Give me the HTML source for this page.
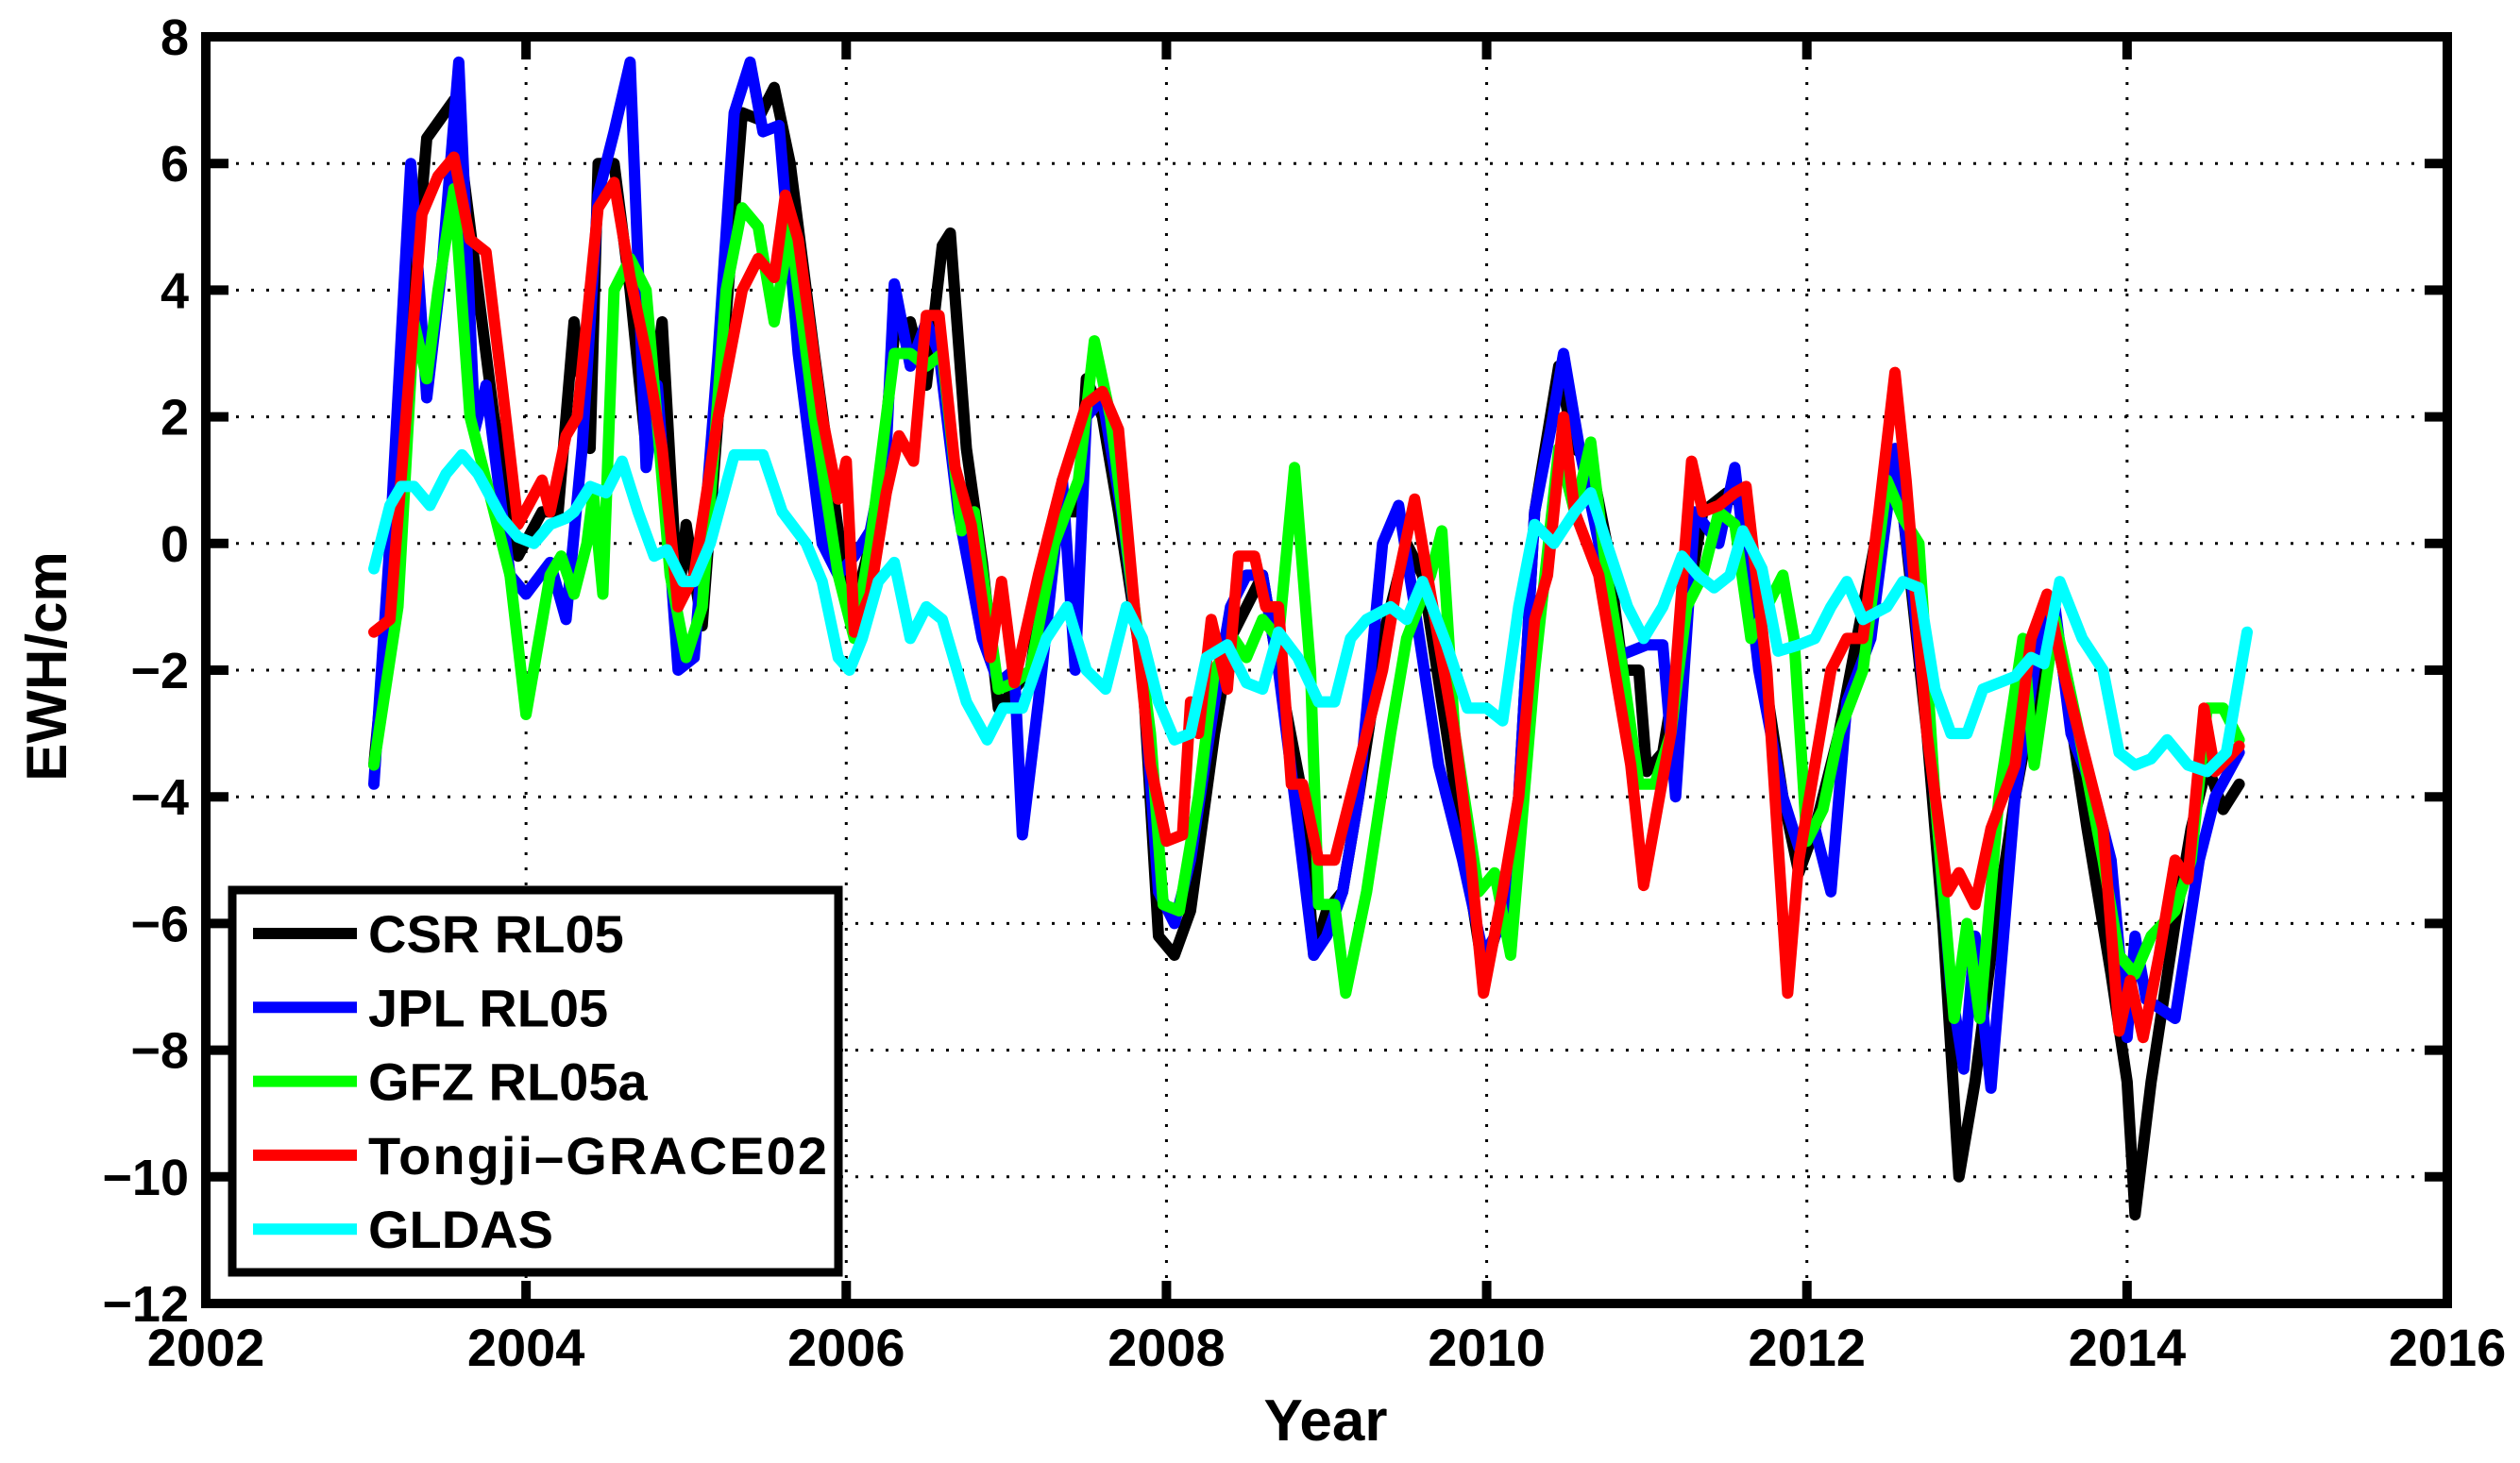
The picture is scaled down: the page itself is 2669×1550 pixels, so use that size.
<!DOCTYPE html>
<html><head><meta charset="utf-8"><style>
html,body{margin:0;padding:0;background:#fff;}
svg{display:block;font-family:"Liberation Sans",Arial,sans-serif;font-weight:bold;}
</style></head><body>
<svg id="chart" width="2669" height="1550" viewBox="0 0 2669 1550" xmlns="http://www.w3.org/2000/svg">
<rect width="2669" height="1550" fill="#fff"/>
<g id="grid"></g>
<g id="series"></g>
<g id="axes"></g>
<text x="1404" y="1526" font-size="62" text-anchor="middle">Year</text>
<text x="0" y="0" font-size="60" text-anchor="middle" transform="translate(70,706) rotate(-90)">EWH/cm</text>
<g id="legend"></g>
</svg>
<script>
const xTicks=[2002,2004,2006,2008,2010,2012,2014,2016];
const yTicks=[8,6,4,2,0,-2,-4,-6,-8,-10,-12];
const seriesNames=["CSR RL05","JPL RL05","GFZ RL05a","Tongji\u2013GRACE02","GLDAS"];
const seriesColors=["#000","#0000ff","#00ff00","#ff0000","#00ffff"];
const csrYears=[2003.05,2003.2,2003.3,2003.38,2003.55,2003.65,2003.8,2003.95,2004.1,2004.2,2004.3,2004.4,2004.45,2004.55,2004.65,2004.75,2004.85,2004.95,2005.0,2005.1,2005.2,2005.35,2005.45,2005.55,2005.65,2005.8,2005.95,2006.05,2006.2,2006.3,2006.4,2006.5,2006.6,2006.65,2006.75,2006.85,2006.95,2007.05,2007.15,2007.3,2007.45,2007.5,2007.6,2007.7,2007.85,2007.95,2008.05,2008.15,2008.3,2008.4,2008.5,2008.6,2008.7,2008.85,2008.92,2009.0,2009.1,2009.2,2009.35,2009.5,2009.6,2009.75,2009.9,2009.98,2010.1,2010.2,2010.3,2010.45,2010.55,2010.65,2010.75,2010.85,2010.95,2011.0,2011.1,2011.25,2011.35,2011.5,2011.6,2011.7,2011.85,2011.95,2012.05,2012.2,2012.35,2012.5,2012.6,2012.75,2012.85,2012.95,2013.05,2013.15,2013.3,2013.45,2013.52,2013.6,2013.75,2013.9,2014.0,2014.05,2014.15,2014.3,2014.4,2014.5,2014.6,2014.7];
const csrValues=[-3.5,0.5,4,6.4,7.0,5,2,-0.2,0.5,0.5,3.5,1.5,6,6.0,4,1.5,3.5,-1.0,0.3,-1.3,2,6.8,6.7,7.2,6.0,3,0.2,-1.0,0.5,3.3,3.5,2.5,4.7,4.9,1.5,-0.3,-2.6,-2.3,-2.0,0.5,0.5,2.6,2.0,0.5,-2,-6.2,-6.5,-5.8,-3,-1.5,-1,-0.5,-2,-4,-6.5,-5.8,-5.5,-4,-1.5,0,-0.5,-3,-5.5,-6.8,-5.8,-4,0.5,2.8,1.5,1.3,0,-2,-2.0,-3.6,-3.3,-1,0.5,0.8,0.6,-1.5,-4,-5.2,-4.5,-3,-1,1,0.5,-3,-6,-10,-8.5,-6.5,-4,-2,-1,-2,-4.5,-6.8,-8.5,-10.6,-8.5,-6.0,-4.5,-3.5,-4.2,-3.8];
const jplYears=[2003.05,2003.15,2003.28,2003.38,2003.48,2003.58,2003.68,2003.75,2003.9,2004.0,2004.15,2004.25,2004.35,2004.45,2004.55,2004.65,2004.75,2004.82,2004.95,2005.05,2005.2,2005.3,2005.4,2005.48,2005.58,2005.7,2005.85,2005.95,2006.05,2006.15,2006.25,2006.3,2006.4,2006.5,2006.58,2006.7,2006.85,2006.95,2007.05,2007.1,2007.2,2007.35,2007.43,2007.5,2007.6,2007.72,2007.85,2007.95,2008.05,2008.15,2008.3,2008.4,2008.5,2008.6,2008.7,2008.8,2008.92,2009.0,2009.1,2009.2,2009.35,2009.45,2009.55,2009.7,2009.85,2009.98,2010.1,2010.2,2010.3,2010.4,2010.48,2010.58,2010.7,2010.8,2010.9,2011.0,2011.1,2011.18,2011.3,2011.45,2011.55,2011.7,2011.85,2011.95,2012.05,2012.15,2012.25,2012.4,2012.55,2012.65,2012.8,2012.9,2012.98,2013.05,2013.15,2013.3,2013.45,2013.55,2013.65,2013.8,2013.9,2014.0,2014.05,2014.12,2014.3,2014.45,2014.55,2014.7];
const jplValues=[-3.8,0,6.0,2.3,4.5,7.6,1.8,2.5,-0.5,-0.8,-0.3,-1.2,1.5,5.5,6.5,7.6,1.2,2.5,-2.0,-1.8,3,6.8,7.6,6.5,6.6,3,0,-0.5,-0.2,0.2,1.5,4.1,2.8,3.5,3.0,0.5,-1.5,-2.2,-2.0,-4.6,-2.5,1.0,-2,2,2.3,0.5,-2,-5.5,-6.0,-5,-2.5,-1,-0.5,-0.5,-2,-4,-6.5,-6.2,-5.5,-4,0,0.6,-1,-3.5,-5,-6.5,-6,-4,0.5,1.8,3.0,1.5,0,-1.8,-1.7,-1.6,-1.6,-4.0,0.5,0,1.2,-2,-4,-4.8,-4.5,-5.5,-2.5,-1.5,1.5,-0.5,-4,-7,-8.3,-6.2,-8.6,-4,-1.5,-1.0,-3,-4,-5,-7.8,-6.2,-7.2,-7.5,-5,-4,-3.3];
const gfzYears=[2003.05,2003.2,2003.3,2003.38,2003.45,2003.55,2003.65,2003.75,2003.9,2004.0,2004.15,2004.22,2004.3,2004.38,2004.42,2004.48,2004.55,2004.65,2004.75,2004.9,2005.0,2005.1,2005.25,2005.35,2005.45,2005.55,2005.65,2005.8,2005.95,2006.05,2006.15,2006.3,2006.4,2006.5,2006.6,2006.72,2006.8,2006.95,2007.05,2007.15,2007.3,2007.45,2007.55,2007.65,2007.8,2007.9,2007.98,2008.08,2008.2,2008.3,2008.42,2008.5,2008.6,2008.7,2008.8,2008.9,2008.95,2009.05,2009.12,2009.25,2009.4,2009.5,2009.65,2009.72,2009.8,2009.95,2010.05,2010.15,2010.3,2010.45,2010.55,2010.65,2010.75,2010.85,2010.95,2011.05,2011.15,2011.25,2011.35,2011.45,2011.55,2011.65,2011.75,2011.85,2011.92,2012.0,2012.1,2012.2,2012.35,2012.5,2012.6,2012.7,2012.8,2012.92,2013.0,2013.08,2013.2,2013.35,2013.42,2013.55,2013.7,2013.85,2013.95,2014.05,2014.15,2014.3,2014.4,2014.5,2014.6,2014.7];
const gfzValues=[-3.5,-1,3.5,2.6,4.0,5.6,2,1,-0.5,-2.7,-0.5,-0.2,-0.8,0,0.8,-0.8,4,4.5,4,-0.5,-1.8,-1.0,4,5.3,5,3.5,5.0,2,-0.5,-1.5,0,3.0,3.0,2.8,3.0,0.2,0.5,-2.3,-2.2,-2,0,1,3.2,2,-1,-3,-5.7,-5.8,-4,-2,-1.5,-1.8,-1.2,-1.5,1.2,-2,-5.7,-5.7,-7.1,-5.5,-3,-1.5,-0.5,0.2,-3,-5.5,-5.2,-6.5,-2,1.5,0.5,1.6,-0.5,-2,-3.8,-3.8,-3,-1,-0.5,0.5,0.3,-1.5,-1,-0.5,-1.5,-4.7,-4.2,-3,-2,1.0,0.4,0,-4,-7.5,-6,-7.5,-4,-1.5,-3.5,-1.2,-3,-5,-6.5,-6.8,-6.2,-5.8,-5,-2.6,-2.6,-3.1];
const tongjiYears=[2003.05,2003.15,2003.25,2003.35,2003.45,2003.55,2003.65,2003.75,2003.85,2003.95,2004.1,2004.15,2004.25,2004.32,2004.45,2004.55,2004.65,2004.75,2004.85,2004.95,2005.05,2005.2,2005.35,2005.45,2005.55,2005.62,2005.7,2005.85,2005.95,2006.0,2006.05,2006.15,2006.25,2006.33,2006.42,2006.5,2006.58,2006.68,2006.78,2006.9,2006.97,2007.05,2007.2,2007.35,2007.5,2007.6,2007.7,2007.8,2007.9,2008.0,2008.1,2008.15,2008.2,2008.28,2008.38,2008.45,2008.55,2008.62,2008.7,2008.78,2008.85,2008.95,2009.05,2009.2,2009.35,2009.45,2009.55,2009.65,2009.8,2009.9,2009.98,2010.1,2010.2,2010.3,2010.38,2010.48,2010.55,2010.7,2010.8,2010.9,2010.98,2011.15,2011.28,2011.35,2011.45,2011.55,2011.62,2011.75,2011.88,2011.95,2012.05,2012.15,2012.25,2012.35,2012.45,2012.55,2012.62,2012.75,2012.88,2012.95,2013.05,2013.15,2013.3,2013.4,2013.5,2013.6,2013.75,2013.85,2013.95,2014.02,2014.1,2014.2,2014.3,2014.38,2014.48,2014.55,2014.7];
const tongjiValues=[-1.4,-1.2,2,5.2,5.8,6.1,4.8,4.6,2.5,0.3,1.0,0.5,1.7,2.0,5.3,5.7,4.2,3.0,1.5,-1.0,-0.5,2,4.0,4.5,4.2,5.5,4.8,2,0.7,1.3,-1.4,-0.8,0.8,1.7,1.3,3.6,3.6,1.2,0.3,-1.8,-0.6,-2.2,-0.5,1,2.2,2.4,1.8,-1,-3.5,-4.7,-4.6,-2.5,-3,-1.2,-2.3,-0.2,-0.2,-1,-1,-3.8,-3.8,-5,-5,-3.5,-2,-0.5,0.7,-0.8,-3,-5,-7.1,-5.5,-4,-1.2,-0.5,2.0,0.5,-0.5,-2,-3.5,-5.4,-3,1.3,0.5,0.6,0.8,0.9,-2,-7.1,-5,-3.5,-2,-1.5,-1.5,0.5,2.7,1,-3,-5.5,-5.2,-5.7,-4.5,-3.5,-1.5,-0.8,-2,-3.5,-4.5,-7.7,-6.9,-7.8,-6.5,-5,-5.3,-2.6,-3.6,-3.2];
const gldasYears=[2003.05,2003.15,2003.22,2003.3,2003.4,2003.5,2003.6,2003.7,2003.85,2003.95,2004.05,2004.15,2004.25,2004.3,2004.4,2004.5,2004.6,2004.7,2004.8,2004.88,2004.98,2005.05,2005.15,2005.3,2005.48,2005.6,2005.75,2005.85,2005.95,2006.02,2006.1,2006.2,2006.3,2006.4,2006.5,2006.6,2006.75,2006.88,2006.98,2007.1,2007.25,2007.38,2007.5,2007.62,2007.75,2007.85,2007.95,2008.05,2008.15,2008.25,2008.38,2008.5,2008.6,2008.7,2008.82,2008.95,2009.05,2009.15,2009.25,2009.4,2009.5,2009.6,2009.75,2009.88,2010.0,2010.1,2010.2,2010.3,2010.42,2010.55,2010.65,2010.75,2010.88,2010.98,2011.1,2011.22,2011.32,2011.42,2011.52,2011.6,2011.72,2011.82,2011.95,2012.05,2012.15,2012.25,2012.35,2012.5,2012.6,2012.7,2012.8,2012.9,2013.0,2013.1,2013.2,2013.3,2013.4,2013.48,2013.58,2013.72,2013.85,2013.95,2014.05,2014.15,2014.25,2014.38,2014.5,2014.62,2014.75];
const gldasValues=[-0.4,0.6,0.9,0.9,0.6,1.1,1.4,1.1,0.4,0.1,0,0.3,0.4,0.5,0.9,0.8,1.3,0.5,-0.2,-0.1,-0.6,-0.6,0,1.4,1.4,0.5,0,-0.6,-1.8,-2.0,-1.5,-0.6,-0.3,-1.5,-1.0,-1.2,-2.5,-3.1,-2.6,-2.6,-1.5,-1.0,-2,-2.3,-1.0,-1.5,-2.5,-3.1,-3.0,-1.8,-1.6,-2.2,-2.3,-1.4,-1.8,-2.5,-2.5,-1.5,-1.2,-1.0,-1.2,-0.6,-1.6,-2.6,-2.6,-2.8,-1,0.3,0,0.5,0.8,0,-1.0,-1.5,-1.0,-0.2,-0.5,-0.7,-0.5,0.2,-0.4,-1.7,-1.6,-1.5,-1.0,-0.6,-1.2,-1,-0.6,-0.7,-2.3,-3.0,-3.0,-2.3,-2.2,-2.1,-1.8,-1.9,-0.6,-1.5,-2.0,-3.3,-3.5,-3.4,-3.1,-3.5,-3.6,-3.3,-1.4];

const NS='http://www.w3.org/2000/svg';
const L=218,R=2592,T=39,B=1381;
const xMin=2002,xMax=2016,yMin=-12,yMax=8;
function xs(v){return L+(v-xMin)/(xMax-xMin)*(R-L);}
function ys(v){return B-(v-yMin)/(yMax-yMin)*(B-T);}
function mk(tag,attrs,parent){const e=document.createElementNS(NS,tag);for(const k in attrs)e.setAttribute(k,attrs[k]);parent.appendChild(e);return e;}

const grid=document.getElementById('grid');
const axes=document.getElementById('axes');
xTicks.forEach(function(t){
  const X=xs(t);
  if(t>xMin&&t<xMax){
    const g=mk('line',{x1:X,y1:T,x2:X,y2:B,stroke:'#000','stroke-width':3,'stroke-dasharray':'3 13'},grid);
    
    
  }
  const tk=mk('path',{d:'M'+X+' '+B+'V'+(B-24)+'M'+X+' '+T+'V'+(T+24),stroke:'#000','stroke-width':10},axes);
  
  
  const lb=mk('text',{x:X,y:1447,'font-size':56,'text-anchor':'middle'},axes);
  lb.textContent=t;
  
  
});
yTicks.forEach(function(t){
  const Y=ys(t);
  if(t>yMin&&t<yMax){
    const g=mk('line',{x1:L,y1:Y,x2:R,y2:Y,stroke:'#000','stroke-width':3,'stroke-dasharray':'3 13'},grid);
    
    
  }
  const tk=mk('path',{d:'M'+L+' '+Y+'H'+(L+24)+'M'+R+' '+Y+'H'+(R-24),stroke:'#000','stroke-width':10},axes);
  
  
  const lb=mk('text',{x:200,y:Y+19,'font-size':54,'text-anchor':'end'},axes);
  lb.textContent=(t<0?'\u2212':'')+Math.abs(t);
  
  
});
const frame=mk('rect',{x:L,y:T,width:R-L,height:B-T,fill:'none',stroke:'#000','stroke-width':10},axes);



const seriesG=document.getElementById('series');
const allYears=[csrYears,jplYears,gfzYears,tongjiYears,gldasYears];
const allValues=[csrValues,jplValues,gfzValues,tongjiValues,gldasValues];
const lineNames=['csr-line','jpl-line','gfz-line','tongji-line','gldas-line'];
allYears.forEach(function(yrs,i){
  const vals=allValues[i];
  const pts=yrs.map(function(y,j){return xs(y).toFixed(1)+','+ys(vals[j]).toFixed(1);}).join(' ');
  const p=mk('polyline',{points:pts,fill:'none',stroke:seriesColors[i],'stroke-width':12,'stroke-linejoin':'round','stroke-linecap':'round'},seriesG);
  
  
});

const lg=document.getElementById('legend');
const box=mk('rect',{x:246,y:943,width:642,height:405,fill:'#fff',stroke:'#000','stroke-width':9},lg);


seriesNames.forEach(function(n,i){
  const cy=989+i*78.3;
  const ln=mk('line',{x1:268,y1:cy,x2:378,y2:cy,stroke:seriesColors[i],'stroke-width':12},lg);
  
  
  const tx=mk('text',{x:390,y:cy+20,'font-size':56,textLength:(i===3?486:null)},lg);
  if(i!==3)tx.removeAttribute('textLength');
  tx.textContent=n;
  
  
});
</script>
</body></html>
